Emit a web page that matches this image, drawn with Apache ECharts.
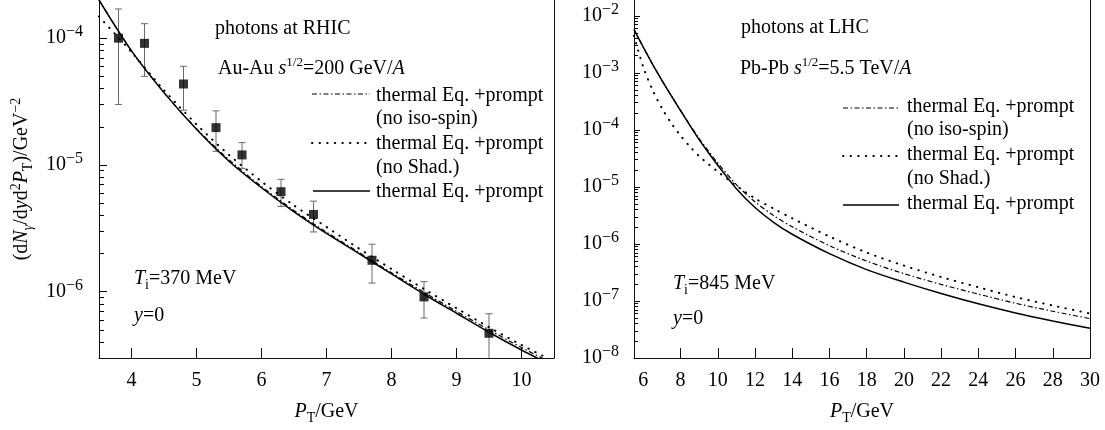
<!DOCTYPE html>
<html><head><meta charset="utf-8">
<script src="https://cdn.jsdelivr.net/npm/echarts@6/dist/echarts.min.js"></script>
<style>html,body{margin:0;padding:0;background:#fff}#c{width:1105px;height:430px}</style>
</head><body><div id="c"></div>
<script>
// ---------- RHIC panel (left) ----------
const rhicPt      = [3.5, 4.0, 4.5, 5.0, 5.5, 6.0, 6.5, 7.0, 7.5, 8.0, 8.5, 9.0, 9.5, 10.0, 10.5];
const rhicFull    = [2.0e-4, 7.94e-5, 3.72e-5, 1.91e-5, 1.07e-5, 6.61e-6, 4.27e-6, 2.88e-6, 2.0e-6, 1.38e-6, 9.55e-7, 6.76e-7, 4.79e-7, 3.47e-7, 2.57e-7];
const rhicNoShad  = [1.48e-4, 7.76e-5, 3.89e-5, 2.09e-5, 1.20e-5, 7.41e-6, 4.79e-6, 3.24e-6, 2.19e-6, 1.51e-6, 1.05e-6, 7.41e-7, 5.25e-7, 3.80e-7, 2.82e-7];
const rhicNoIso   = [2.0e-4, 7.94e-5, 3.72e-5, 1.93e-5, 1.10e-5, 6.76e-6, 4.37e-6, 2.95e-6, 2.04e-6, 1.41e-6, 9.89e-7, 7.00e-7, 5.01e-7, 3.63e-7, 2.69e-7];
const phenixPt    = [3.8, 4.2, 4.8, 5.3, 5.7, 6.3, 6.8, 7.7, 8.5, 9.5];
const phenixY     = [1.0e-4, 9.1e-5, 4.35e-5, 1.97e-5, 1.2e-5, 6.15e-6, 4.07e-6, 1.77e-6, 9.1e-7, 4.7e-7];
const phenixHi    = [1.7e-4, 1.3e-4, 6.0e-5, 2.67e-5, 1.5e-5, 7.7e-6, 5.18e-6, 2.37e-6, 1.2e-6, 6.7e-7];
const phenixLo    = [3.0e-5, 5.0e-5, 2.7e-5, 1.28e-5, 9.4e-6, 4.7e-6, 2.96e-6, 1.17e-6, 6.2e-7, 2.5e-7];
const rhicXTicks  = [4, 5, 6, 7, 8, 9, 10];
const rhicYDecades = [1e-6, 1e-5, 1e-4];
const rhicYRange  = [3e-7, 2e-4];
const rhicXRange  = [3.5, 10.5];

// ---------- LHC panel (right) ----------
const lhcPt      = [5.5, 6, 6.5, 7, 7.5, 8, 8.5, 9, 9.5, 10, 11, 12, 13, 14, 16, 18, 20, 22, 24, 26, 28, 30];
const lhcFull    = [5.75e-3, 2.82e-3, 1.41e-3, 7.41e-4, 3.98e-4, 2.19e-4, 1.20e-4, 6.76e-5, 3.98e-5, 2.40e-5, 9.33e-6, 4.37e-6, 2.40e-6, 1.48e-6, 6.76e-7, 3.55e-7, 2.14e-7, 1.35e-7, 8.91e-8, 6.17e-8, 4.47e-8, 3.31e-8];
const lhcNoIso   = [5.75e-3, 2.82e-3, 1.41e-3, 7.41e-4, 3.98e-4, 2.19e-4, 1.23e-4, 7.08e-5, 4.27e-5, 2.63e-5, 1.10e-5, 5.50e-6, 3.16e-6, 2.0e-6, 9.33e-7, 5.01e-7, 3.02e-7, 1.95e-7, 1.32e-7, 9.12e-8, 6.61e-8, 4.90e-8];
const lhcNoShad  = [4.47e-3, 1.26e-3, 5.01e-4, 2.40e-4, 1.32e-4, 7.94e-5, 5.13e-5, 3.47e-5, 2.51e-5, 1.86e-5, 1.05e-5, 6.31e-6, 4.17e-6, 2.82e-6, 1.35e-6, 7.08e-7, 4.17e-7, 2.63e-7, 1.74e-7, 1.17e-7, 8.32e-8, 6.03e-8];
const lhcXLabels = [6, 8, 10, 12, 14, 16, 18, 20, 22, 24, 26, 28, 30];
const lhcXTicks  = [8, 10, 12, 14, 16, 18, 20, 22, 24, 26, 28];
const lhcYDecades = [1e-8, 1e-7, 1e-6, 1e-5, 1e-4, 1e-3, 1e-2];
const lhcYRange  = [1e-8, 1.9e-2];
const lhcXRange  = [5.5, 30];

const minorMult = [2, 3, 4, 5, 6, 7, 8, 9];

// ---------- helpers ----------
const FF = 'Liberation Serif';
const lg = v => Math.log10(v);
function pairs(xs, ys) { return xs.map((x, i) => [x, lg(ys[i])]); }
function minorTicks(decades, range) {
  const out = [];
  decades.concat([decades[0] / 10]).forEach(d => minorMult.forEach(m => {
    const v = d * m;
    if (v > range[0] && v < range[1]) out.push(lg(v));
  }));
  return out.sort((a, b) => a - b);
}
const supFmt = v => '{b|10}{s|\u2212' + Math.round(-v) + '}';
const tickLabelRich = {
  b: { fontSize: 20, fontFamily: FF, color: '#000', lineHeight: 28 },
  s: { fontSize: 16, fontFamily: FF, color: '#000', verticalAlign: 'top', lineHeight: 17 }
};
const nameRich = {
  n: { fontSize: 20, fontFamily: FF, color: '#000', lineHeight: 26 },
  i: { fontSize: 20, fontFamily: FF, fontStyle: 'italic', color: '#000', lineHeight: 26 },
  sub: { fontSize: 14, fontFamily: FF, color: '#000', verticalAlign: 'bottom', lineHeight: 17 },
  subi: { fontSize: 14, fontFamily: FF, fontStyle: 'italic', color: '#000', verticalAlign: 'bottom', lineHeight: 17 },
  sup: { fontSize: 14, fontFamily: FF, color: '#000', verticalAlign: 'top', lineHeight: 16 }
};

function xAxisDef(gi, range, labels, ticks) {
  return {
    type: 'value', gridIndex: gi, min: range[0], max: range[1],
    name: '{i|P}{sub|T}{n|/GeV}', nameLocation: 'middle', nameGap: 41,
    nameTextStyle: { rich: nameRich },
    axisLine: { show: true, onZero: false, lineStyle: { color: '#111', width: 1 } },
    axisTick: { show: true, inside: true, length: 10, customValues: ticks, lineStyle: { color: '#111', width: 1 } },
    axisLabel: { show: true, customValues: labels, margin: 13, fontSize: 20, fontFamily: FF, color: '#000' },
    splitLine: { show: false }
  };
}
function yAxesDef(gi, range, decades, majorLen, minorLen, margin, withName) {
  const mn = lg(range[0]), mx = lg(range[1]);
  const main = {
    type: 'value', gridIndex: gi, min: mn, max: mx, position: 'left',
    axisLine: { show: true, onZero: false, lineStyle: { color: '#111', width: 1 } },
    axisTick: { show: true, inside: true, length: majorLen, customValues: decades.map(lg), lineStyle: { color: '#000', width: 1 } },
    axisLabel: { show: true, customValues: decades.map(lg), formatter: supFmt, rich: tickLabelRich, margin: margin },
    splitLine: { show: false }
  };
  if (withName) {
    Object.assign(main, {
      name: '{n|(d}{i|N}{subi|\u03b3}{n|/d}{i|y}{n|d}{sup|2}{i|P}{sub|T}{n|)/GeV}{sup|\u22122}',
      nameLocation: 'middle', nameGap: 64, nameRotate: 90,
      nameTextStyle: { rich: nameRich }
    });
  }
  const minor = {
    type: 'value', gridIndex: gi, min: mn, max: mx, position: 'left',
    axisLine: { show: true, onZero: false, lineStyle: { color: '#111', width: 1 } },
    axisTick: { show: true, inside: true, length: minorLen, customValues: minorTicks(decades, range), lineStyle: { color: '#000', width: 1 } },
    axisLabel: { show: false }, splitLine: { show: false }
  };
  const border = {
    type: 'value', gridIndex: gi, min: mn, max: mx, position: 'right',
    axisLine: { show: true, onZero: false, lineStyle: { color: '#111', width: 1 } },
    axisTick: { show: false }, axisLabel: { show: false }, splitLine: { show: false }
  };
  return [main, minor, border];
}

const solidStyle  = { color: '#000', width: 1.5, type: 'solid' };
const dottedStyle = { color: '#000', width: 2, type: [0.4, 7.2], cap: 'round' };
const dashDotStyle = { color: '#000', width: 1.2, type: [5, 2.5, 1.5, 2.5] };
function lineSeries(name, xi, yi, xs, ys, style, z) {
  return { name, type: 'line', xAxisIndex: xi, yAxisIndex: yi, data: pairs(xs, ys),
    showSymbol: false, symbol: 'none', smooth: 0.3, lineStyle: style, z: z, silent: true };
}

const errData = phenixPt.map((x, i) => [x, lg(phenixHi[i]), lg(phenixLo[i])]);
const yMinLeft = lg(rhicYRange[0]);

const series = [
  {
    type: 'custom', xAxisIndex: 0, yAxisIndex: 0, data: errData, z: 3, silent: true,
    renderItem: function (params, api) {
      const x = api.value(0), hi = api.value(1), lo = api.value(2);
      const loC = Math.max(lo, yMinLeft);
      const p1 = api.coord([x, hi]), p2 = api.coord([x, loC]);
      const w = 3.5, st = { stroke: '#6a6a6a', lineWidth: 1 };
      const ch = [
        { type: 'line', shape: { x1: p1[0], y1: p1[1], x2: p2[0], y2: p2[1] }, style: st },
        { type: 'line', shape: { x1: p1[0] - w, y1: p1[1], x2: p1[0] + w, y2: p1[1] }, style: st }
      ];
      if (lo > yMinLeft) ch.push({ type: 'line', shape: { x1: p2[0] - w, y1: p2[1], x2: p2[0] + w, y2: p2[1] }, style: st });
      return { type: 'group', children: ch };
    }
  },
  lineSeries('thermal Eq. +prompt (no iso-spin)', 0, 0, rhicPt, rhicNoIso, dashDotStyle, 4),
  lineSeries('thermal Eq. +prompt (no Shad.)', 0, 0, rhicPt, rhicNoShad, dottedStyle, 4),
  lineSeries('thermal Eq. +prompt', 0, 0, rhicPt, rhicFull, solidStyle, 5),
  {
    type: 'scatter', xAxisIndex: 0, yAxisIndex: 0, data: pairs(phenixPt, phenixY),
    symbol: 'rect', symbolSize: 9, itemStyle: { color: '#000' }, z: 6, silent: true
  },
  lineSeries('thermal Eq. +prompt (no iso-spin)', 1, 3, lhcPt, lhcNoIso, dashDotStyle, 4),
  lineSeries('thermal Eq. +prompt (no Shad.)', 1, 3, lhcPt, lhcNoShad, dottedStyle, 4),
  lineSeries('thermal Eq. +prompt', 1, 3, lhcPt, lhcFull, solidStyle, 5)
];

// ---------- in-plot texts ----------
const gRich = {
  i: { fontStyle: 'italic', fontSize: 20, fontFamily: FF, fill: '#000', lineHeight: 26 },
  sup: { fontSize: 13, fontFamily: FF, fill: '#000', verticalAlign: 'top', lineHeight: 15 },
  sub: { fontSize: 14, fontFamily: FF, fill: '#000', verticalAlign: 'bottom', lineHeight: 17 }
};
function txt(x, y, text) {
  return { type: 'text', x: x, y: y, z: 100, silent: true,
    style: { text: text, rich: gRich, fill: '#000', font: '20px "Liberation Serif"', lineHeight: 26, align: 'left', verticalAlign: 'middle' } };
}
function sample(x1, x2, y, style) {
  return { type: 'line', z: 100, silent: true, shape: { x1: x1, y1: y, x2: x2, y2: y },
    style: { stroke: '#000', lineWidth: style.width, lineDash: Array.isArray(style.type) ? style.type : null, lineCap: style.cap || 'butt' } };
}
const graphics = [
  txt(215, 29, 'photons at RHIC'),
  txt(218, 69, 'Au-Au {i|s}{sup|1/2}=200 GeV/{i|A}'),
  sample(312, 370, 94, dashDotStyle), txt(376, 96, 'thermal Eq. +prompt'),
  txt(376, 119, '(no iso-spin)'),
  sample(312, 370, 143, dottedStyle), txt(376, 144, 'thermal Eq. +prompt'),
  txt(376, 168, '(no Shad.)'),
  sample(313, 370, 191, solidStyle), txt(376, 192, 'thermal Eq. +prompt'),
  txt(134, 279, '{i|T}{sub|i}=370 MeV'),
  txt(134, 316, '{i|y}=0'),

  txt(741, 28, 'photons at LHC'),
  txt(740, 69, 'Pb-Pb {i|s}{sup|1/2}=5.5 TeV/{i|A}'),
  sample(843, 899, 108, dashDotStyle), txt(907, 107, 'thermal Eq. +prompt'),
  txt(907, 130, '(no iso-spin)'),
  sample(843, 899, 156, dottedStyle), txt(907, 155, 'thermal Eq. +prompt'),
  txt(907, 179, '(no Shad.)'),
  sample(843, 899, 205, solidStyle), txt(907, 204, 'thermal Eq. +prompt'),
  txt(673, 284, '{i|T}{sub|i}=845 MeV'),
  txt(673, 319, '{i|y}=0')
];

const chart = echarts.init(document.getElementById('c'), null, { renderer: 'canvas' });
chart.setOption({
  backgroundColor: '#fff',
  animation: false,
  textStyle: { fontFamily: FF },
  grid: [
    { left: 99, top: 0, width: 455, height: 360 },
    { left: 634, top: 0, width: 456, height: 361 }
  ],
  xAxis: [
    xAxisDef(0, rhicXRange, rhicXTicks, rhicXTicks),
    xAxisDef(1, lhcXRange, lhcXLabels, lhcXTicks)
  ],
  yAxis: yAxesDef(0, rhicYRange, rhicYDecades, 8, 5, 16, true)
    .concat(yAxesDef(1, lhcYRange, lhcYDecades, 6, 4, 15, false)),
  series: series,
  graphic: graphics
});
</script></body></html>
